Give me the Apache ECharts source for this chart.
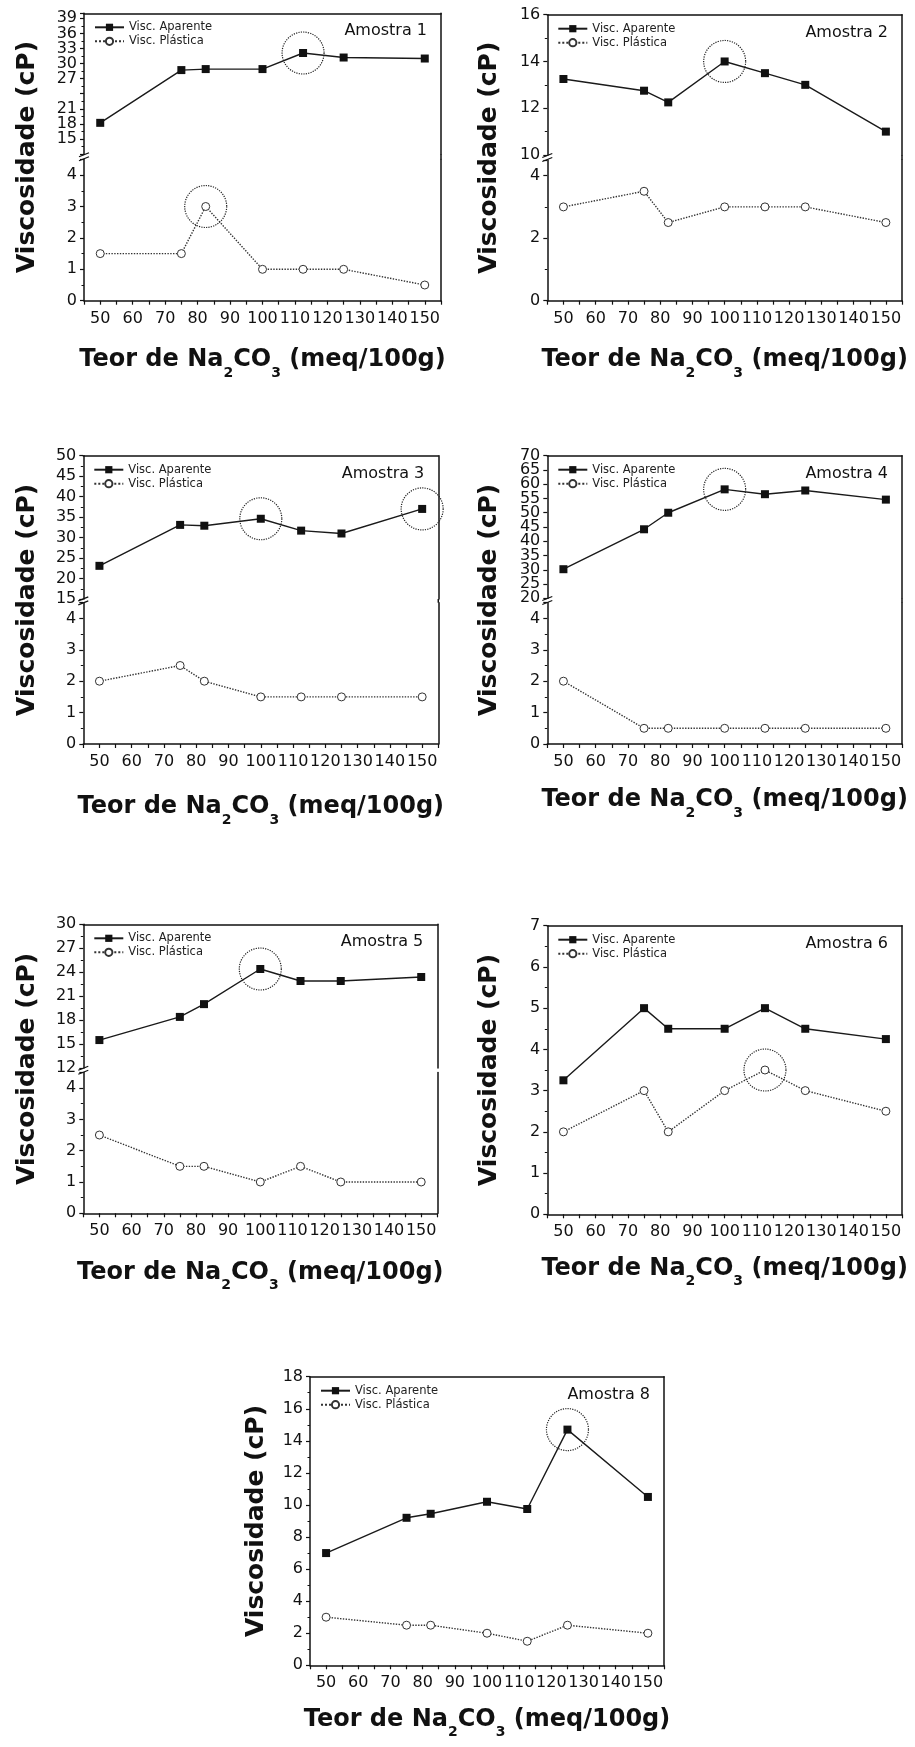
<!DOCTYPE html>
<html><head><meta charset="utf-8">
<script src="https://cdn.jsdelivr.net/npm/echarts@6/dist/echarts.min.js"></script>
<style>html,body{margin:0;padding:0;background:#fff}#chart{width:915px;height:1747px}</style>
</head><body><div id="chart"></div>
<script>
// ---------------- data ----------------
const concentrations = [50, 75, 82.5, 100, 112.5, 125, 150];
const xTickLabels = [50, 60, 70, 80, 90, 100, 110, 120, 130, 140, 150];
const seriesNames = ['Visc. Aparente', 'Visc. Plástica'];

const aparente1 = [18.2, 28.7, 28.9, 28.9, 32.1, 31.2, 31.0];
const plastica1 = [1.5, 1.5, 3.0, 1.0, 1.0, 1.0, 0.5];
const aparente2 = [13.25, 12.75, 12.25, 14.0, 13.5, 13.0, 11.0];
const plastica2 = [3.0, 3.5, 2.5, 3.0, 3.0, 3.0, 2.5];
const aparente3 = [23.1, 33.1, 32.9, 34.6, 31.7, 31.0, 37.0];
const plastica3 = [2.0, 2.5, 2.0, 1.5, 1.5, 1.5, 1.5];
const aparente4 = [30.2, 44.2, 50.0, 58.2, 56.5, 57.8, 54.6];
const plastica4 = [2.0, 0.5, 0.5, 0.5, 0.5, 0.5, 0.5];
const aparente5 = [15.5, 18.4, 20.0, 24.4, 22.9, 22.9, 23.4];
const plastica5 = [2.5, 1.5, 1.5, 1.0, 1.5, 1.0, 1.0];
const aparente6 = [3.25, 5.0, 4.5, 4.5, 5.0, 4.5, 4.25];
const plastica6 = [2.0, 3.0, 2.0, 3.0, 3.5, 3.0, 2.5];
const aparente8 = [7.0, 9.2, 9.45, 10.2, 9.75, 14.7, 10.5];
const plastica8 = [3.0, 2.5, 2.5, 2.0, 1.5, 2.5, 2.0];

// tick labels
const yUpper1 = [15, 18, 21, 27, 30, 33, 36, 39];
const yLower = [0, 1, 2, 3, 4];
const yUpper2 = [10, 12, 14, 16];
const yLower2 = [0, 2, 4];
const yUpper3 = [15, 20, 25, 30, 35, 40, 45, 50];
const yUpper4 = [20, 25, 30, 35, 40, 45, 50, 55, 60, 65, 70];
const yUpper5 = [12, 15, 18, 21, 24, 27, 30];
const yLabels6 = [0, 1, 2, 3, 4, 5, 6, 7];
const yLabels8 = [0, 2, 4, 6, 8, 10, 12, 14, 16, 18];

// ---------------- layout ----------------
const FONT = 'DejaVu Sans';
const INK = '#111';
const X_MIN = 45, X_MAX = 155;
const W = 915;

const panels = [
  { title: 'Amostra 1', aparente: aparente1, plastica: plastica1, hiA: [4], hiP: [2],
    left: 84, width: 357, yTitleX: 27.5, xNameGap: 39.5, rightBreakGap: false,
    upper: { top: 13.3, height: 140.7, min: 12, max: 40, interval: 3, labels: yUpper1, minor: true },
    lower: { top: 159.4, height: 141.3, min: 0, max: 4.5, interval: 1, labels: yLower, minor: true } },
  { title: 'Amostra 2', aparente: aparente2, plastica: plastica2, hiA: [3], hiP: [],
    left: 547.3, width: 354.7, yTitleX: 489, xNameGap: 39.5, rightBreakGap: false,
    upper: { top: 14.7, height: 140.3, min: 10, max: 16, interval: 2, labels: yUpper2, minor: true },
    lower: { top: 160, height: 140.7, min: 0, max: 4.5, interval: 2, labels: yLower2, minor: true } },
  { title: 'Amostra 3', aparente: aparente3, plastica: plastica3, hiA: [3, 6], hiP: [],
    left: 83.3, width: 355, yTitleX: 27.5, xNameGap: 43, rightBreakGap: false,
    upper: { top: 455.7, height: 143.3, min: 15, max: 50, interval: 5, labels: yUpper3, minor: true },
    lower: { top: 602.7, height: 141.3, min: 0, max: 4.5, interval: 1, labels: yLower, minor: true } },
  { title: 'Amostra 4', aparente: aparente4, plastica: plastica4, hiA: [3], hiP: [],
    left: 547.3, width: 354.7, yTitleX: 489, xNameGap: 36, rightBreakGap: false,
    upper: { top: 455.7, height: 142.6, min: 20, max: 70, interval: 5, labels: yUpper4, minor: false },
    lower: { top: 602.7, height: 141.3, min: 0, max: 4.5, interval: 1, labels: yLower, minor: true } },
  { title: 'Amostra 5', aparente: aparente5, plastica: plastica5, hiA: [3], hiP: [],
    left: 83.3, width: 354, yTitleX: 27.5, xNameGap: 39, rightBreakGap: true,
    upper: { top: 924.3, height: 143.7, min: 12, max: 30, interval: 3, labels: yUpper5, minor: true },
    lower: { top: 1072.4, height: 140.9, min: 0, max: 4.5, interval: 1, labels: yLower, minor: true } },
  { title: 'Amostra 6', aparente: aparente6, plastica: plastica6, hiA: [], hiP: [4],
    left: 547.3, width: 354.7, yTitleX: 489, xNameGap: 34,
    single: { top: 925.7, height: 288.6, min: 0, max: 7, interval: 1, labels: yLabels6, minor: true } },
  { title: 'Amostra 8', aparente: aparente8, plastica: plastica8, hiA: [5], hiP: [],
    left: 310, width: 354, yTitleX: 256.7, xNameGap: 34,
    single: { top: 1376.7, height: 288.6, min: 0, max: 18, interval: 2, labels: yLabels8, minor: true } }
];

// ---------------- option building ----------------
const option = { animation: false, backgroundColor: '#fff', grid: [], xAxis: [], yAxis: [], series: [], legend: [], title: [], graphic: [] };
const lineSt = { color: INK, width: 1.5 };

function fmt(list) {
  return function (v) { return list.some(l => Math.abs(l - v) < 1e-6) ? String(v) : ''; };
}
function yLabelStyle(list) {
  return { show: true, fontSize: 16, fontFamily: FONT, color: INK, margin: 7, hideOverlap: false,
    formatter: fmt(list), showMinLabel: true, showMaxLabel: true };
}
function yAxisLeft(gi, s, list) {
  return { gridIndex: gi, type: 'value', position: 'left', min: s.min, max: s.max, interval: s.interval,
    axisLine: { show: true, onZero: false, lineStyle: lineSt },
    axisTick: { show: true, length: 4, lineStyle: { color: INK, width: 1.2 } },
    minorTick: { show: s.minor, splitNumber: 2, length: 2.5, lineStyle: { color: INK, width: 1 } },
    splitLine: { show: false }, minorSplitLine: { show: false },
    axisLabel: yLabelStyle(list) };
}
// second label-only axis, so that closely packed labels are never dropped
function yAxisLabelsOnly(gi, s, list) {
  return { gridIndex: gi, type: 'value', position: 'left', offset: 0, min: s.min, max: s.max, interval: s.interval,
    axisLine: { show: false, onZero: false }, axisTick: { show: false }, minorTick: { show: false },
    splitLine: { show: false }, axisLabel: yLabelStyle(list) };
}
function yAxisRight(gi, s) {
  return { gridIndex: gi, type: 'value', position: 'right', min: s.min, max: s.max,
    axisLine: { show: true, onZero: false, lineStyle: lineSt },
    axisTick: { show: false }, axisLabel: { show: false }, splitLine: { show: false } };
}
function xAxisFrame(gi, pos) {
  return { gridIndex: gi, type: 'value', position: pos, min: X_MIN, max: X_MAX, interval: 5,
    axisLine: { show: true, onZero: false, lineStyle: lineSt },
    axisTick: { show: false }, axisLabel: { show: false }, splitLine: { show: false } };
}
function xAxisBottom(gi, p) {
  return { gridIndex: gi, type: 'value', position: 'bottom', min: X_MIN, max: X_MAX, interval: 5,
    axisLine: { show: true, onZero: false, lineStyle: lineSt },
    axisTick: { show: true, length: 4, lineStyle: { color: INK, width: 1.2 } },
    axisLabel: { fontSize: 16, fontFamily: FONT, color: INK, margin: 10, hideOverlap: false,
      formatter: fmt(xTickLabels), showMinLabel: true, showMaxLabel: true },
    splitLine: { show: false },
    name: '{t|Teor de Na}{s|2}{t|CO}{s|3}{t| (meq/100g)}',
    nameLocation: 'middle', nameGap: p.xNameGap,
    nameTextStyle: { rich: {
      t: { fontSize: 24, fontWeight: 'bold', fontFamily: FONT, color: INK },
      s: { fontSize: 14, fontWeight: 'bold', fontFamily: FONT, color: INK, padding: [26, 0, 0, 0] } } } };
}
function addSeries(name, xi, yi, ys, hi, kind) {
  const data = concentrations.map((x, i) => [x, ys[i]]);
  const s = { name: name, type: 'line', xAxisIndex: xi, yAxisIndex: yi, data: data,
    symbolSize: 8, z: 3, emphasis: { disabled: true } };
  if (kind === 'A') {
    s.symbol = 'rect';
    s.itemStyle = { color: '#111' };
    s.lineStyle = { color: '#1a1a1a', width: 1.4 };
  } else {
    s.symbol = 'circle';
    s.itemStyle = { color: '#fff', borderColor: '#333', borderWidth: 1 };
    s.lineStyle = { color: '#333', width: 1.4, type: 'dotted' };
  }
  if (hi.length) {
    s.markPoint = { symbol: 'circle', symbolSize: 42, silent: true, animation: false,
      label: { show: false },
      itemStyle: { color: 'rgba(0,0,0,0)', borderColor: '#222', borderWidth: 1.2, borderType: 'dotted' },
      data: hi.map(i => ({ coord: [concentrations[i], ys[i]] })) };
  }
  option.series.push(s);
}
function addGrid(p, g) {
  const gi = option.grid.length;
  option.grid.push({ left: p.left, top: g.top, width: p.width, height: g.height });
  const listA = g.labels.filter((v, i) => i % 2 === 0);
  const listB = g.labels.filter((v, i) => i % 2 === 1);
  const yi = option.yAxis.length;
  option.yAxis.push(yAxisLeft(gi, g, listA));
  option.yAxis.push(yAxisRight(gi, g));
  option.yAxis.push(yAxisLabelsOnly(gi, g, listB));
  return { gi: gi, yi: yi };
}

panels.forEach(p => {
  let topGrid, bottomEdge;
  if (p.single) {
    const r = addGrid(p, p.single);
    const xi = option.xAxis.length;
    option.xAxis.push(xAxisBottom(r.gi, p));
    option.xAxis.push(xAxisFrame(r.gi, 'top'));
    addSeries(seriesNames[0], xi, r.yi, p.aparente, p.hiA, 'A');
    addSeries(seriesNames[1], xi, r.yi, p.plastica, p.hiP, 'P');
    topGrid = p.single;
    bottomEdge = p.single.top + p.single.height;
  } else {
    const ru = addGrid(p, p.upper);
    const xu = option.xAxis.length;
    option.xAxis.push(xAxisFrame(ru.gi, 'top'));
    const rl = addGrid(p, p.lower);
    const xl = option.xAxis.length;
    option.xAxis.push(xAxisBottom(rl.gi, p));
    addSeries(seriesNames[0], xu, ru.yi, p.aparente, p.hiA, 'A');
    addSeries(seriesNames[1], xl, rl.yi, p.plastica, p.hiP, 'P');
    topGrid = p.upper;
    bottomEdge = p.lower.top + p.lower.height;
    const yUb = p.upper.top + p.upper.height;
    // axis break marks
    const yb = (yUb + p.lower.top) / 2;
    [-2, 2].forEach(d => option.graphic.push({ type: 'line', silent: true,
      shape: { x1: p.left - 5, y1: yb + d + 2, x2: p.left + 5, y2: yb + d - 2 },
      style: { stroke: INK, lineWidth: 1.2 } }));
    if (!p.rightBreakGap) {
      const xr = p.left + p.width;
      option.graphic.push({ type: 'line', silent: true,
        shape: { x1: xr, y1: yUb, x2: xr, y2: p.lower.top },
        style: { stroke: INK, lineWidth: 1.5 } });
    }
  }
  option.legend.push({ left: p.left + 10, top: topGrid.top + 8, orient: 'vertical', padding: 0,
    itemGap: 2, itemWidth: 29, itemHeight: 9, selectedMode: false,
    textStyle: { fontSize: 11.5, fontFamily: FONT, color: '#222' }, data: seriesNames });
  option.title.push({ text: p.title, right: W - (p.left + p.width) + 14, top: topGrid.top + 10, padding: 0,
    textStyle: { fontSize: 16, fontWeight: 'normal', fontFamily: FONT, color: INK } });
  option.graphic.push({ type: 'text', silent: true, x: p.yTitleX, y: (topGrid.top + bottomEdge) / 2,
    rotation: Math.PI / 2,
    style: { text: 'Viscosidade (cP)', fontSize: 25, fontWeight: 'bold', fontFamily: FONT, fill: INK,
      align: 'center', verticalAlign: 'middle' } });
});

const chart = echarts.init(document.getElementById('chart'), null, { renderer: 'canvas' });
chart.setOption(option);
</script></body></html>
